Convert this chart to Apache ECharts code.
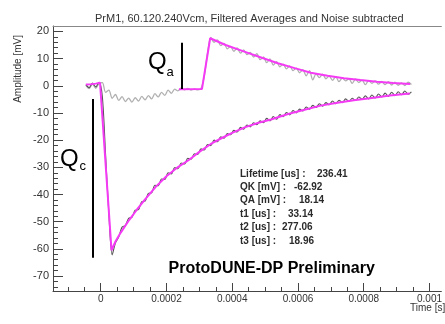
<!DOCTYPE html>
<html>
<head>
<meta charset="utf-8">
<script src="https://cdn.jsdelivr.net/npm/echarts@6/dist/echarts.min.js"></script>
<style>
  html, body { margin: 0; padding: 0; background: #fff; }
  #chart { width: 445px; height: 324px; }
</style>
</head>
<body>
<div id="chart"></div>
<script>
// sample times of the averaged waveforms [us]
const tWave = [
  -45, -35, -25, -15, -5, 5, 15, 25, 35, 45,
  55, 65, 75, 85, 95, 105, 115, 125, 135, 145,
  155, 165, 175, 185, 195, 205, 215, 225, 235, 245,
  255, 265, 275, 285, 295, 305, 315, 325, 335, 345,
  355, 365, 375, 385, 395, 405, 415, 425, 435, 445,
  455, 465, 475, 485, 495, 505, 515, 525, 535, 545,
  555, 565, 575, 585, 595, 605, 615, 625, 635, 645,
  655, 665, 675, 685, 695, 705, 715, 725, 735, 745,
  755, 765, 775, 785, 795, 805, 815, 825, 835, 845,
  855, 865, 875, 885, 895, 905, 915, 925, 935, 945
];
// anode signal [mV] (light grey)
const anodeWave = [
  0.2, -1.0, 0.6, -0.9, 0.9, 1.2, -2.4, -1.6, -4.6, -3.2,
  -5.4, -4.0, -5.8, -4.5, -6.0, -4.4, -5.6, -3.9, -5.2, -3.6,
  -4.8, -2.9, -4.1, -2.4, -3.5, -1.6, -2.8, -1.2, -1.9, -0.8,
  -1.5, -1.0, -1.6, -1.1, -1.5, -1.0, 3.5, 12.0, 17.8, 16.0,
  16.9, 14.8, 15.6, 13.6, 14.5, 12.7, 13.9, 12.0, 13.2, 11.5,
  12.3, 10.6, 11.8, 9.6, 10.6, 8.5, 9.9, 7.6, 8.9, 7.0,
  8.0, 6.2, 7.3, 5.6, 6.5, 4.8, 5.9, 3.7, 5.6, 2.2,
  4.4, 3.0, 4.3, 2.6, 3.6, 2.0, 3.4, 1.5, 2.9, 1.8,
  2.6, 0.9, 2.5, 1.2, 2.1, 0.4, 1.9, 0.9, 1.8, 0.6,
  1.6, 0.4, 1.5, 0.3, 1.3, 0.2, 1.1, 0.1, 1.3, 0.5
];
// cathode signal [mV] (dark grey)
const cathodeWave = [
  0.4, -0.7, 1.0, -0.4, 1.3, -3.9, -25.6, -47.3, -62.2, -57.8,
  -55.6, -52.0, -51.4, -48.8, -48.4, -45.8, -45.6, -42.6, -42.4, -39.6,
  -39.4, -36.6, -36.8, -34.3, -34.5, -32.0, -32.4, -30.1, -30.5, -28.4,
  -28.8, -26.7, -27.0, -25.0, -25.3, -23.2, -23.6, -21.6, -22.0, -20.0,
  -20.6, -18.8, -19.3, -17.6, -18.0, -16.4, -17.0, -15.3, -16.0, -14.4,
  -15.1, -13.6, -14.3, -12.9, -13.6, -12.0, -12.9, -11.3, -12.3, -10.6,
  -11.4, -9.8, -10.7, -9.1, -10.0, -8.6, -9.3, -7.8, -8.6, -7.2,
  -8.0, -6.6, -7.5, -6.2, -7.0, -5.6, -6.6, -5.3, -6.2, -4.8,
  -5.8, -4.6, -5.4, -4.1, -5.0, -3.7, -4.8, -3.4, -4.5, -3.0,
  -4.1, -2.7, -3.9, -2.4, -3.6, -2.2, -3.3, -1.9, -3.1, -2.2
];
// fitted cathode response [us, mV]
const cathodeFit = [
  [-45, 0.5], [-30, 0.6], [-15, 0.8], [-2, 1.1], [2, 0.4], [33, -60.5],
  [45, -57.3], [60, -54.2], [87, -49.3], [110, -45.6], [135, -41.8],
  [168, -37.1], [200, -33.3], [235, -29.9], [268, -27.3], [300, -24.3],
  [335, -21.4], [367, -19.3], [400, -17.3], [440, -15.2], [480, -13.6],
  [518, -12.4], [570, -10.4], [620, -8.8], [669, -7.3], [720, -6.2],
  [770, -5.3], [819, -4.6], [880, -3.6], [940, -2.8]
];
// fitted anode response [us, mV]
const anodeFit = [
  [238, -1.3], [308, -1.2], [333, 17.5], [380, 15.0], [439, 12.5],
  [490, 10.3], [539, 8.3], [590, 6.5], [639, 4.8], [690, 3.7],
  [740, 2.75], [790, 2.1], [840, 1.5], [890, 1.05], [941, 0.66]
];
// Q markers: [time us, from mV, to mV]
const qcMark = [-23.2, -4.9, -63.3];
const qaMark = [248, 15.8, -1.2];

const xMajor = [0, 0.0002, 0.0004, 0.0006, 0.0008, 0.001];
const xMinor = [-0.0001, -0.00005, 0.00005, 0.0001, 0.00015, 0.00025, 0.0003, 0.00035,
  0.00045, 0.0005, 0.00055, 0.00065, 0.0007, 0.00075, 0.00085, 0.0009, 0.00095];
const yMajor = [-70, -60, -50, -40, -30, -20, -10, 0, 10, 20];
const yMinor = [-74, -72, -68, -66, -64, -62, -58, -56, -54, -52, -48, -46, -44, -42,
  -38, -36, -34, -32, -28, -26, -24, -22, -18, -16, -14, -12, -8, -6, -4, -2,
  2, 4, 6, 8, 12, 14, 16, 18];

const stats = [
  ['Lifetime [us] :', '236.41'],
  ['QK [mV] :', '-62.92'],
  ['QA [mV] :', '18.14'],
  ['t1 [us] :', '33.14'],
  ['t2 [us] :', '277.06'],
  ['t3 [us] :', '18.96']
];
const statValueX = [317, 294, 299, 288, 282, 289];
const statY = [174, 187, 200.5, 214, 227.5, 241];

const us = 1e-6;
const axisColor = '#444';
const magenta = '#f53af5';

const chart = echarts.init(document.getElementById('chart'), null, { renderer: 'canvas' });

const xBase = { type: 'value', min: -0.000145, max: 0.0010361, splitLine: { show: false } };
const yBase = { type: 'value', min: -75.5, max: 22, splitLine: { show: false } };

const graphics = [
  { type: 'text', x: 18, y: 35, rotation: Math.PI / 2,
    style: { text: 'Amplitude [mV]', fill: '#333', font: '10px "Liberation Sans", Arial, sans-serif', textAlign: 'right', textVerticalAlign: 'middle' } },
  { type: 'text', x: 410, y: 308,
    style: { text: 'Time [s]', fill: '#333', font: '10px "Liberation Sans", Arial, sans-serif', textAlign: 'left', textVerticalAlign: 'middle' } },
  { type: 'text', x: 60, y: 159,
    style: { text: 'Q', fill: '#000', font: '24px "Liberation Sans", Arial, sans-serif', textVerticalAlign: 'middle' } },
  { type: 'text', x: 79.5, y: 166.5,
    style: { text: 'c', fill: '#000', font: '13px "Liberation Sans", Arial, sans-serif', textVerticalAlign: 'middle' } },
  { type: 'text', x: 148, y: 62.5,
    style: { text: 'Q', fill: '#000', font: '24px "Liberation Sans", Arial, sans-serif', textVerticalAlign: 'middle' } },
  { type: 'text', x: 166.5, y: 72.5,
    style: { text: 'a', fill: '#000', font: '13px "Liberation Sans", Arial, sans-serif', textVerticalAlign: 'middle' } },
  { type: 'text', x: 271.7, y: 268.3,
    style: { text: 'ProtoDUNE-DP Preliminary', fill: '#000', font: 'bold 16px "Liberation Sans", Arial, sans-serif', textAlign: 'center', textVerticalAlign: 'middle' } }
];
stats.forEach((s, i) => {
  graphics.push({ type: 'text', x: 240, y: statY[i],
    style: { text: s[0], fill: '#2b2b2b', font: 'bold 10px "Liberation Sans", Arial, sans-serif', textVerticalAlign: 'middle' } });
  graphics.push({ type: 'text', x: statValueX[i], y: statY[i],
    style: { text: s[1], fill: '#2b2b2b', font: 'bold 10px "Liberation Sans", Arial, sans-serif', textVerticalAlign: 'middle' } });
});

const option = {
  animation: false,
  backgroundColor: '#fff',
  textStyle: { fontFamily: '"Liberation Sans", Arial, sans-serif' },
  title: {
    text: 'PrM1, 60.120.240Vcm, Filtered Averages and Noise subtracted',
    left: 90, top: 8,
    textStyle: { fontSize: 11, fontWeight: 'normal', color: '#333' }
  },
  grid: { left: 53, top: 26, right: 0, bottom: 33 },
  xAxis: [
    { ...xBase, position: 'bottom',
      axisLine: { show: true, onZero: false, lineStyle: { color: axisColor, width: 1 } },
      axisTick: { show: true, inside: true, length: 8, customValues: xMajor, lineStyle: { color: axisColor } },
      axisLabel: { show: true, customValues: xMajor, margin: 3, fontSize: 10, color: '#333',
        formatter: (v) => (v === 0 ? '0' : String(v)) } },
    { ...xBase, position: 'bottom',
      axisLine: { show: false, onZero: false },
      axisTick: { show: true, inside: true, length: 4, customValues: xMinor, lineStyle: { color: axisColor } },
      axisLabel: { show: false } },
    { ...xBase, position: 'top',
      axisLine: { show: true, onZero: false, lineStyle: { color: '#888', width: 1 } },
      axisTick: { show: false }, axisLabel: { show: false } }
  ],
  yAxis: [
    { ...yBase, position: 'left',
      axisLine: { show: true, onZero: false, lineStyle: { color: axisColor, width: 1 } },
      axisTick: { show: true, inside: true, length: 10, customValues: yMajor, lineStyle: { color: axisColor } },
      axisLabel: { show: true, customValues: yMajor, margin: 4, fontSize: 11, color: '#333' } },
    { ...yBase, position: 'left',
      axisLine: { show: false, onZero: false },
      axisTick: { show: true, inside: true, length: 5, customValues: yMinor, lineStyle: { color: axisColor } },
      axisLabel: { show: false } }
  ],
  series: [
    { name: 'anode', type: 'line', xAxisIndex: 0, yAxisIndex: 0, symbol: 'none', smooth: 0.3,
      data: tWave.map((t, i) => [t * us, anodeWave[i]]),
      lineStyle: { color: '#b0b0b0', width: 1.3 } },
    { name: 'cathode', type: 'line', xAxisIndex: 0, yAxisIndex: 0, symbol: 'none', smooth: 0.3,
      data: tWave.map((t, i) => [t * us, cathodeWave[i]]),
      lineStyle: { color: '#555', width: 1.1 } },
    { name: 'cathode fit', type: 'line', xAxisIndex: 0, yAxisIndex: 0, symbol: 'none',
      data: cathodeFit.map((p) => [p[0] * us, p[1]]),
      lineStyle: { color: magenta, width: 2 } },
    { name: 'anode fit', type: 'line', xAxisIndex: 0, yAxisIndex: 0, symbol: 'none',
      data: anodeFit.map((p) => [p[0] * us, p[1]]),
      lineStyle: { color: magenta, width: 2 },
      markLine: {
        silent: true, symbol: 'none', label: { show: false },
        lineStyle: { color: '#000', width: 2, type: 'solid' },
        data: [
          [{ coord: [qcMark[0] * us, qcMark[1]] }, { coord: [qcMark[0] * us, qcMark[2]] }],
          [{ coord: [qaMark[0] * us, qaMark[1]] }, { coord: [qaMark[0] * us, qaMark[2]] }]
        ]
      } }
  ],
  graphic: graphics
};

chart.setOption(option);
</script>
</body>
</html>
